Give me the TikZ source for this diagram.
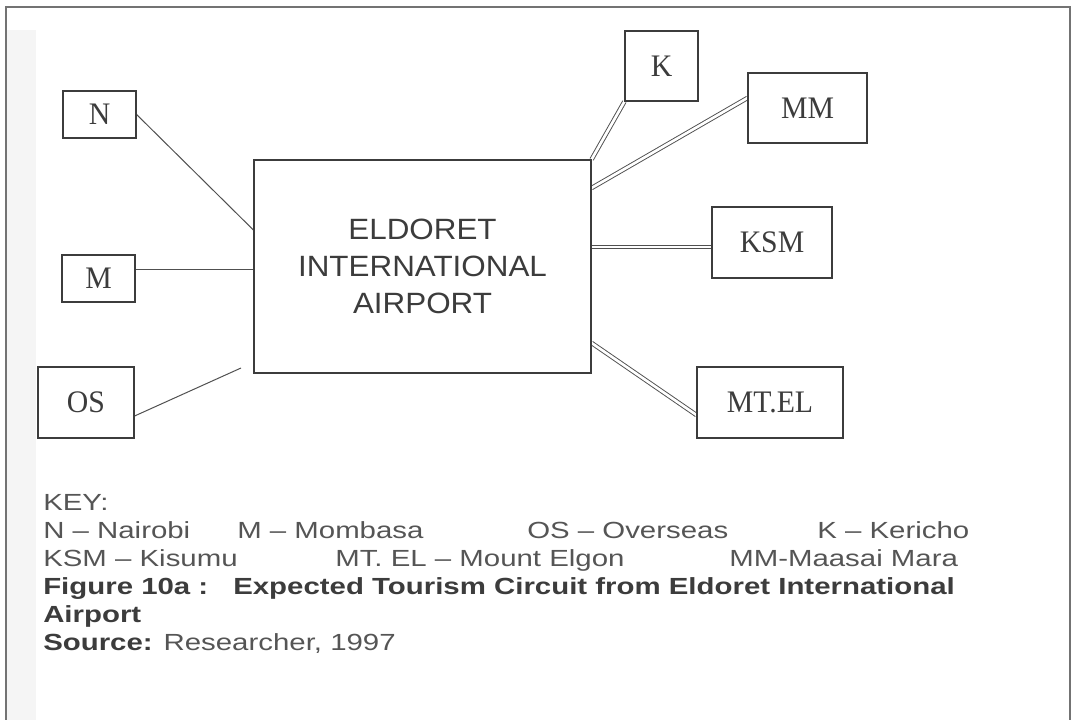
\documentclass[tikz,border=0pt]{standalone}
\usepackage{fontspec}
\setmainfont{Liberation Serif}
\newfontfamily\boxfont{Liberation Serif}[FakeStretch=0.95, Ligatures=TeX]
\newfontfamily\hubfont{Liberation Sans}[FakeStretch=1.07, Ligatures=TeX]
\newfontfamily\keyfont{Liberation Sans}[FakeStretch=1.26, Ligatures=TeX]
\usetikzlibrary{backgrounds}
\definecolor{inkgray}{RGB}{60,60,60}
\definecolor{keygray}{RGB}{85,85,85}
\definecolor{linegray}{RGB}{80,80,80}

\begin{document}
\begin{tikzpicture}[x=0.75pt,y=0.75pt,yscale=-1,xscale=1,
    town/.style={draw=inkgray, line width=0.9pt, inner sep=0pt, text=inkgray,
        font=\boxfont\fontsize{23.5}{28}\selectfont},
    hub/.style={town, align=center, font=\hubfont\fontsize{22}{27.75}\selectfont},
    link/.style={draw=linegray, line width=0.75pt},
    road/.style={draw=linegray, line width=0.7pt, double=white, double distance=2pt},
    keytext/.style={anchor=base west, inner sep=0pt, text=keygray,
        font=\keyfont\fontsize{17.5}{21}\selectfont},
    keybold/.style={keytext, text=inkgray, font=\keyfont\bfseries\fontsize{17.5}{21}\selectfont}]
\useasboundingbox (0,0) rectangle (1073,720);

%Shape: Frame
\draw [color=black!55, line width=1pt] (6,720) -- (6,7) -- (1070,7) -- (1070,720);

% Hub and towns
\node [hub, minimum width=252.75pt, minimum height=159.75pt] (hub) at (422.5,266.5) {ELDORET\\INTERNATIONAL\\AIRPORT};
\node [town, minimum width=54.75pt, minimum height=35.25pt] (N) at (99.5,114.5) {N};
\node [town, minimum width=54.75pt, minimum height=35.25pt] (M) at (98.5,278.5) {M};
\node [town, minimum width=72pt, minimum height=53.25pt] (OS) at (86,402.5) {OS};
\node [town, minimum width=54.75pt, minimum height=52.5pt] (K) at (661.5,66) {K};
\node [town, minimum width=89.25pt, minimum height=52.5pt] (MM) at (807.5,108) {MM};
\node [town, minimum width=90pt, minimum height=53.25pt] (KSM) at (772,242.5) {KSM};
\node [town, minimum width=109.5pt, minimum height=53.25pt] (MTEL) at (770,402.5) {MT.EL};
\coordinate (osEnd) at (241,368);

\begin{scope}[on background layer]
%Shape: scan shadow
\fill [black!4] (7,30) rectangle (36,720);
% single links
\draw [link] (N.east) -- (hub.west |- 0,230);
\draw [link] (M.east |- 0,269) -- (hub.west |- 0,269);
\draw [link] (OS.east |- 0,416) -- (osEnd);
% double links
\draw [road] (K.south west) -- (hub.north east);
\draw [road] (MM.west |- 0,98) -- (hub.east |- 0,188);
\draw [road] (hub.east |- 0,247) -- (KSM.west |- 0,247);
\draw [road] (hub.east |- 0,343) -- (MTEL.west |- 0,415);
\end{scope}

% Text Node
\node [keytext] (key) at (43,510) {KEY:};
% Text Node
\node [keytext] (kN) at (43,538) {N -- Nairobi};
\node [keytext] (kM) at (237,538) {M -- Mombasa};
\node [keytext] (kOS) at (527,538) {OS -- Overseas};
\node [keytext] (kK) at (817,538) {K -- Kericho};
% Text Node
\node [keytext] (kKSM) at (43,566) {KSM -- Kisumu};
\node [keytext] (kMTEL) at (335,566) {MT. EL -- Mount Elgon};
\node [keytext] (kMM) at (729,566) {MM-Maasai Mara};
% Text Node
\node [keybold] (fig) at (43,594) {Figure 10a :};
\node [keybold] (title) at (233,594) {Expected Tourism Circuit from Eldoret International};
\node [keybold] (title2) at (43,622) {Airport};
% Text Node
\node [keytext] (src) at (43,650) {\textbf{\color{inkgray}Source:} Researcher, 1997};
\end{tikzpicture}
\end{document}
